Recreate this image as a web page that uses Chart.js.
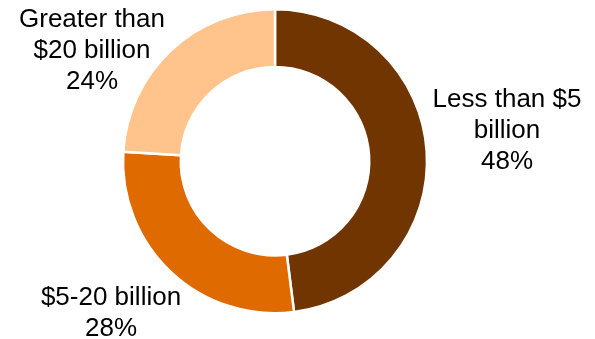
<!DOCTYPE html>
<html>
<head>
<meta charset="utf-8">
<script src="https://cdn.jsdelivr.net/npm/chart.js@4"></script>
<style>
  html, body { margin: 0; padding: 0; background: #fff; }
  #wrap { width: 595px; height: 339px; }
</style>
</head>
<body>
<div id="wrap"><canvas id="donaChart"></canvas></div>
<script>
// datos del gráfico
const categorias = ['Less than $5 billion', '$5-20 billion', 'Greater than $20 billion'];
const porcentajes = [48, 28, 24];
const etiquetas = [
    ['Less than $5', 'billion'],
    ['$5-20 billion'],
    ['Greater than', '$20 billion']
];
const colores = ['#703500', '#DE6A00', '#FFC38B'];

// posición (línea base de la primera línea) de cada etiqueta relativa al centro (px)
const posEtiquetas = [
    { dx: 232, dy: -54 },
    { dx: -164, dy: 144 },
    { dx: -183, dy: -134 }
];

const etiquetasPlugin = {
    id: 'etiquetasExternas',
    afterDraw(chart) {
        const ctx = chart.ctx;
        const arcos = chart.getDatasetMeta(0).data;
        ctx.save();
        ctx.font = '26px "Liberation Sans", Arial, sans-serif';
        ctx.fillStyle = '#000';
        ctx.textAlign = 'center';
        ctx.textBaseline = 'alphabetic';
        arcos.forEach((arco, i) => {
            const lineas = etiquetas[i].concat([porcentajes[i] + '%']);
            const x = arco.x + posEtiquetas[i].dx;
            const y = arco.y + posEtiquetas[i].dy;
            lineas.forEach((linea, j) => {
                ctx.fillText(linea, x, y + j * 31);
            });
        });
        ctx.restore();
    }
};

const ctx = document.getElementById('donaChart').getContext('2d');
const donaChart = new Chart(ctx, {
    type: 'doughnut',
    data: {
        labels: categorias,
        datasets: [{
            data: porcentajes,
            backgroundColor: colores,
            borderColor: '#ffffff',
            borderWidth: 2.5
        }]
    },
    options: {
        responsive: true,
        maintainAspectRatio: false,
        animation: false,
        cutout: '62%',
        layout: {
            padding: { top: 8, bottom: 24.5, left: 0, right: 45 }
        },
        plugins: {
            legend: { display: false },
            tooltip: { enabled: false }
        }
    },
    plugins: [etiquetasPlugin]
});
</script>
</body>
</html>
